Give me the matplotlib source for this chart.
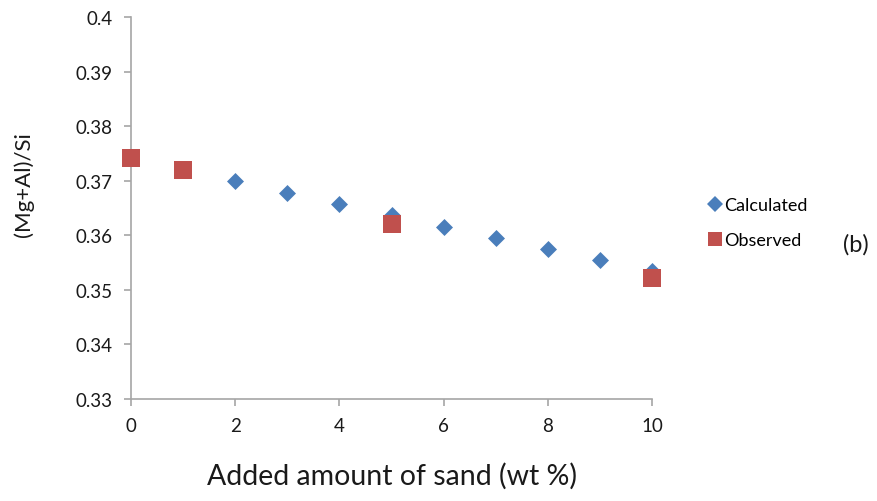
import matplotlib
matplotlib.use('Agg')
import matplotlib.pyplot as plt
from matplotlib.lines import Line2D

plt.rcParams['font.family'] = ['Lato', 'DejaVu Sans']

# data
calc_x = [0, 1, 2, 3, 4, 5, 6, 7, 8, 9, 10]
calc_y = [0.3741, 0.3720, 0.3699, 0.3678, 0.3657, 0.3637, 0.3616, 0.3595, 0.3575, 0.3555, 0.3535]
obs_x = [0, 1, 5, 10]
obs_y = [0.3741, 0.3720, 0.3620, 0.3522]

blue = '#4A7EBB'
red = '#C0504D'
grey = '#A6A6A6'
txt = '#1a1a1a'

fig = plt.figure(figsize=(8.78, 5.02), dpi=100)
ax = fig.add_axes([0.1492, 0.2032, 0.5934, 0.7609])

ax.scatter(calc_x, calc_y, marker='D', s=75, color=blue, linewidths=0, zorder=2, clip_on=False)
ax.scatter(obs_x, obs_y, marker='s', s=150, color=red, linewidths=0, zorder=3, clip_on=False)

ax.set_xlim(0, 10)
ax.set_ylim(0.33, 0.40)
ax.set_xticks([0, 2, 4, 6, 8, 10])
ax.set_yticks([0.33, 0.34, 0.35, 0.36, 0.37, 0.38, 0.39, 0.40])
ax.set_yticklabels(['0.33', '0.34', '0.35', '0.36', '0.37', '0.38', '0.39', '0.4'])

for s in ['top', 'right']:
    ax.spines[s].set_visible(False)
for s in ['left', 'bottom']:
    ax.spines[s].set_color(grey)
    ax.spines[s].set_linewidth(1.2)
ax.tick_params(axis='both', colors=grey, labelcolor=txt, labelsize=13.5, length=5, width=1.2)
ax.tick_params(axis='x', pad=8)
ax.tick_params(axis='y', pad=8)

ax.set_xlabel('Added amount of sand (wt %)', fontsize=20.5, labelpad=20, color=txt)
fig.text(0.027, 0.633, '(Mg+Al)/Si', rotation=90, fontsize=16, va='center', ha='center', color=txt)

handles = [Line2D([], [], marker='D', ls='', color=blue, markersize=8, markeredgewidth=0),
           Line2D([], [], marker='s', ls='', color=red, markersize=10, markeredgewidth=0)]
fig.legend(handles, ['Calculated', 'Observed'], loc='center left', bbox_to_anchor=(0.785, 0.554),
           frameon=False, fontsize=13, handletextpad=0.05, labelspacing=1.05, handlelength=1.0)

fig.text(0.960, 0.512, '(b)', fontsize=17, va='center', ha='left', color=txt)

fig.savefig('out.png', dpi=100)
